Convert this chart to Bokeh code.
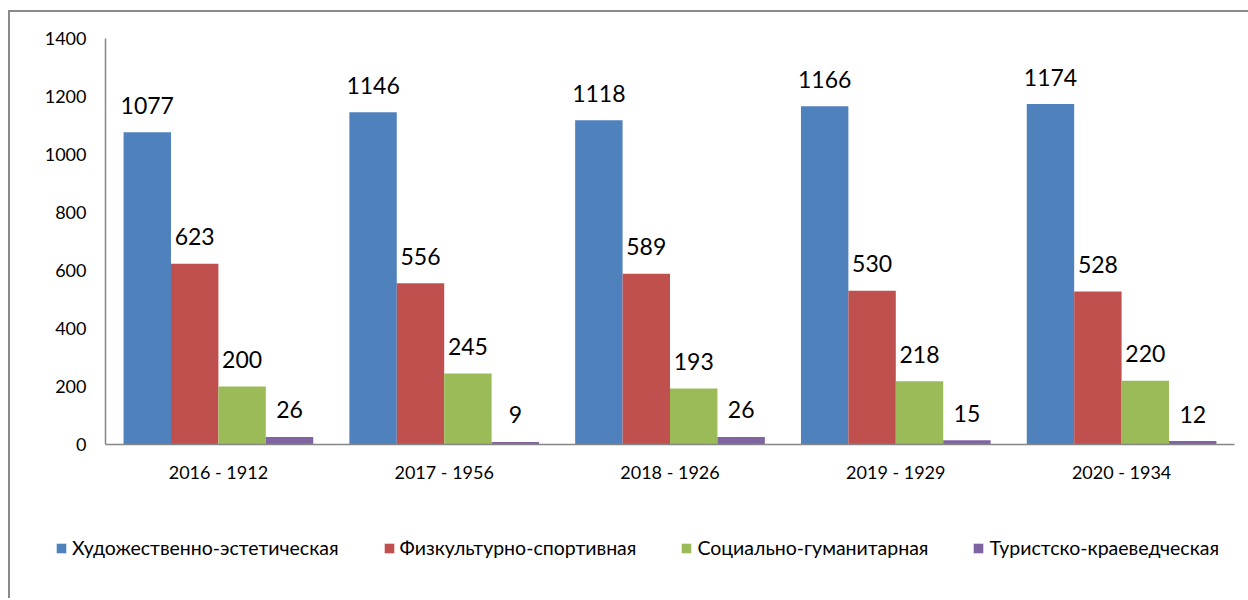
from bokeh.plotting import figure
from bokeh.models import FactorRange, Range1d, ColumnDataSource, Legend, LegendItem, Column
from bokeh.transform import dodge
from bokeh.core.properties import value
from bokeh.embed import file_html
from bokeh.resources import INLINE

categories = ["2016 - 1912", "2017 - 1956", "2018 - 1926", "2019 - 1929", "2020 - 1934"]
series_names = ["Художественно-эстетическая", "Физкультурно-спортивная",
                "Социально-гуманитарная", "Туристско-краеведческая"]
art = [1077, 1146, 1118, 1166, 1174]
sport = [623, 556, 589, 530, 528]
social = [200, 245, 193, 218, 220]
tourism = [26, 9, 26, 15, 12]
y_ticks = [0, 200, 400, 600, 800, 1000, 1200, 1400]

colors = ["#4F81BD", "#C0504D", "#9BBB59", "#8064A2"]
FONT = "Lato"

W = 1238
H1, H2 = 488, 98
p = figure(x_range=FactorRange(*categories, range_padding=0),
           y_range=Range1d(0, 1400),
           width=W, height=H1, output_backend="svg", toolbar_location=None,
           min_border_left=95, min_border_right=14, min_border_top=26, min_border_bottom=56,
           frame_align=False)
p.outline_line_color = None
p.grid.visible = False

source = ColumnDataSource(dict(cat=categories, art=art, sport=sport, social=social, tourism=tourism,
                               art_t=[str(v) for v in art], sport_t=[str(v) for v in sport],
                               social_t=[str(v) for v in social], tourism_t=[str(v) for v in tourism]))

bw = 0.21
offsets = [-1.5 * bw, -0.5 * bw, 0.5 * bw, 1.5 * bw]
keys = ["art", "sport", "social", "tourism"]
for k, off, c in zip(keys, offsets, colors):
    p.vbar(x=dodge("cat", off, range=p.x_range), top=k, width=bw, source=source,
           fill_color=c, line_color=None)
    p.text(x=dodge("cat", off, range=p.x_range), y=k, text=k + "_t", source=source,
           text_align="center", text_baseline="alphabetic", y_offset=-27,
           text_font=value(FONT), text_font_size="23px", text_color="#000000")

p.yaxis.ticker = y_ticks
for ax in (p.xaxis[0], p.yaxis[0]):
    ax.axis_line_color = "#868686"
    ax.axis_line_width = 1.5
    ax.major_tick_line_color = None
    ax.minor_tick_line_color = None
    ax.major_tick_out = 0
    ax.major_tick_in = 0
    ax.major_label_text_font = FONT
    ax.major_label_text_color = "#000000"
p.yaxis.major_label_text_font_size = "18px"
p.yaxis.major_label_standoff = 19
p.xaxis.major_label_text_font_size = "18px"
p.xaxis.major_label_standoff = 16

# legend strip below the chart
lf = figure(width=W, height=H2, output_backend="svg", toolbar_location=None,
            x_range=Range1d(0, 1), y_range=Range1d(0, 1),
            x_axis_type=None, y_axis_type=None,
            min_border_left=0, min_border_right=0, min_border_top=0, min_border_bottom=0,
            frame_align=False)
lf.outline_line_color = None
lf.grid.visible = False
hidden = ColumnDataSource(dict(x=[5.0], top=[5.0]))
leg_renderers = [lf.vbar(x="x", top="top", width=0.1, source=hidden, fill_color=c, line_color=None)
                 for c in colors]
legend = Legend(items=[LegendItem(label=n, renderers=[r]) for n, r in zip(series_names, leg_renderers)],
                location=(55 - 10, 39), orientation="horizontal",
                glyph_width=12, glyph_height=12, label_standoff=5,
                padding=0, margin=0, spacing=44,
                border_line_color=None, background_fill_alpha=0,
                label_text_font=FONT, label_text_font_size="19.5px",
                label_text_color="#000000", label_height=12)
lf.add_layout(legend, "center")

layout = Column(p, lf, spacing=0,
                styles={"border-left": "2px solid #8a8a8a", "border-top": "2px solid #8a8a8a",
                        "margin-top": "10px", "margin-left": "8px"})

open("out.html", "w").write(file_html(layout, INLINE))
